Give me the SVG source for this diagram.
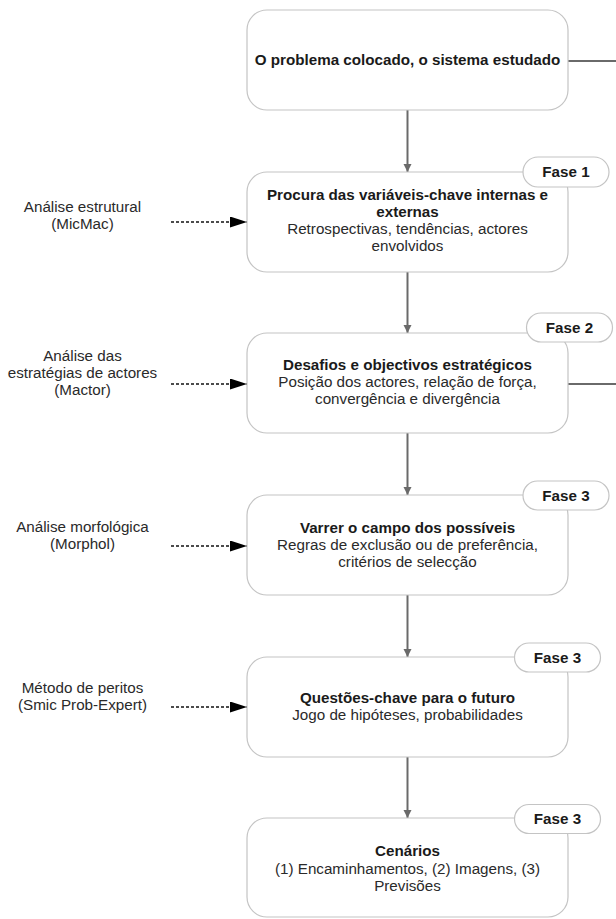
<svg xmlns="http://www.w3.org/2000/svg" width="616" height="919" viewBox="0 0 616 919">
<defs>
<style>
.box{fill:#fff;stroke:#c4c4c4;stroke-width:1.2}
.pill{fill:#fff;stroke:#c4c4c4;stroke-width:1.2}
.t{font-family:"Liberation Sans",Arial,sans-serif;font-size:15.2px;fill:#2a2a2a;text-anchor:middle}
.b{font-weight:bold;fill:#1a1a1a}
.flow{stroke:#6a6a6a;stroke-width:2;fill:none}
.dash{stroke:#111;stroke-width:1.6;stroke-dasharray:3 2;fill:none}
</style>
<marker id="ga" markerUnits="userSpaceOnUse" markerWidth="10" markerHeight="10" refX="8" refY="4" orient="auto">
<path d="M0,0 L8,4 L0,8 Z" fill="#6a6a6a"/>
</marker>
<marker id="ba" markerUnits="userSpaceOnUse" markerWidth="18" markerHeight="12" refX="17" refY="5.5" orient="auto">
<path d="M0,0 L17,5.5 L0,11 Z" fill="#000"/>
</marker>
</defs>
<rect width="616" height="919" fill="#fff"/>

<g id="connectors">
<line class="flow" x1="407.5" y1="110" x2="407.5" y2="172" marker-end="url(#ga)"/>
<line class="flow" x1="407.5" y1="272" x2="407.5" y2="333" marker-end="url(#ga)"/>
<line class="flow" x1="407.5" y1="433" x2="407.5" y2="495" marker-end="url(#ga)"/>
<line class="flow" x1="407.5" y1="595" x2="407.5" y2="657" marker-end="url(#ga)"/>
<line class="flow" x1="407.5" y1="757" x2="407.5" y2="818" marker-end="url(#ga)"/>
<line class="flow" x1="568" y1="61" x2="616" y2="61"/>
<line class="flow" x1="568" y1="384" x2="616" y2="384"/>
<line class="dash" x1="171" y1="222" x2="247" y2="222" marker-end="url(#ba)"/>
<line class="dash" x1="171" y1="384" x2="247" y2="384" marker-end="url(#ba)"/>
<line class="dash" x1="171" y1="546" x2="247" y2="546" marker-end="url(#ba)"/>
<line class="dash" x1="171" y1="707" x2="247" y2="707" marker-end="url(#ba)"/>
</g>

<g id="n1">
<rect class="box" x="247" y="10" width="321" height="100" rx="20"/>
<text class="t b" x="407.5" y="65">O problema colocado, o sistema estudado</text>
</g>

<g id="n2">
<rect class="box" x="247" y="172" width="321" height="100" rx="20"/>
<rect class="pill" x="523" y="157" width="86" height="30" rx="15"/>
<text class="t b" x="566" y="177">Fase 1</text>
<text class="t b" x="407.5" y="200">Procura das variáveis-chave internas e</text>
<text class="t b" x="407.5" y="217">externas</text>
<text class="t" x="407.5" y="234">Retrospectivas, tendências, actores</text>
<text class="t" x="407.5" y="251">envolvidos</text>
</g>

<g id="n3">
<rect class="box" x="247" y="333" width="321" height="100" rx="20"/>
<rect class="pill" x="526.5" y="313" width="86" height="29" rx="14.5"/>
<text class="t b" x="569.5" y="332.5">Fase 2</text>
<text class="t b" x="407.5" y="370">Desafios e objectivos estratégicos</text>
<text class="t" x="407.5" y="387">Posição dos actores, relação de força,</text>
<text class="t" x="407.5" y="404">convergência e divergência</text>
</g>

<g id="n4">
<rect class="box" x="247" y="495" width="321" height="100" rx="20"/>
<rect class="pill" x="523" y="481" width="86" height="29" rx="14.5"/>
<text class="t b" x="566" y="500.5">Fase 3</text>
<text class="t b" x="407.5" y="532.5">Varrer o campo dos possíveis</text>
<text class="t" x="407.5" y="549.5">Regras de exclusão ou de preferência,</text>
<text class="t" x="407.5" y="566.5">critérios de selecção</text>
</g>

<g id="n5">
<rect class="box" x="247" y="657" width="321" height="100" rx="20"/>
<rect class="pill" x="514.5" y="643" width="86" height="29" rx="14.5"/>
<text class="t b" x="557.5" y="662.5">Fase 3</text>
<text class="t b" x="407.5" y="703">Questões-chave para o futuro</text>
<text class="t" x="407.5" y="720">Jogo de hipóteses, probabilidades</text>
</g>

<g id="n6">
<rect class="box" x="247" y="818" width="321" height="99" rx="20"/>
<rect class="pill" x="514.5" y="804.5" width="86" height="29" rx="14.5"/>
<text class="t b" x="557.5" y="824">Fase 3</text>
<text class="t b" x="407.5" y="856">Cenários</text>
<text class="t" x="407.5" y="874">(1) Encaminhamentos, (2) Imagens, (3)</text>
<text class="t" x="407.5" y="891">Previsões</text>
</g>

<g id="l1">
<text class="t" x="82.5" y="212">Análise estrutural</text>
<text class="t" x="82.5" y="229">(MicMac)</text>
</g>
<g id="l2">
<text class="t" x="82.5" y="361">Análise das</text>
<text class="t" x="82.5" y="378">estratégias de actores</text>
<text class="t" x="82.5" y="395">(Mactor)</text>
</g>
<g id="l3">
<text class="t" x="82.5" y="532">Análise morfológica</text>
<text class="t" x="82.5" y="549">(Morphol)</text>
</g>
<g id="l4">
<text class="t" x="82.5" y="693">Método de peritos</text>
<text class="t" x="82.5" y="710">(Smic Prob-Expert)</text>
</g>
</svg>
